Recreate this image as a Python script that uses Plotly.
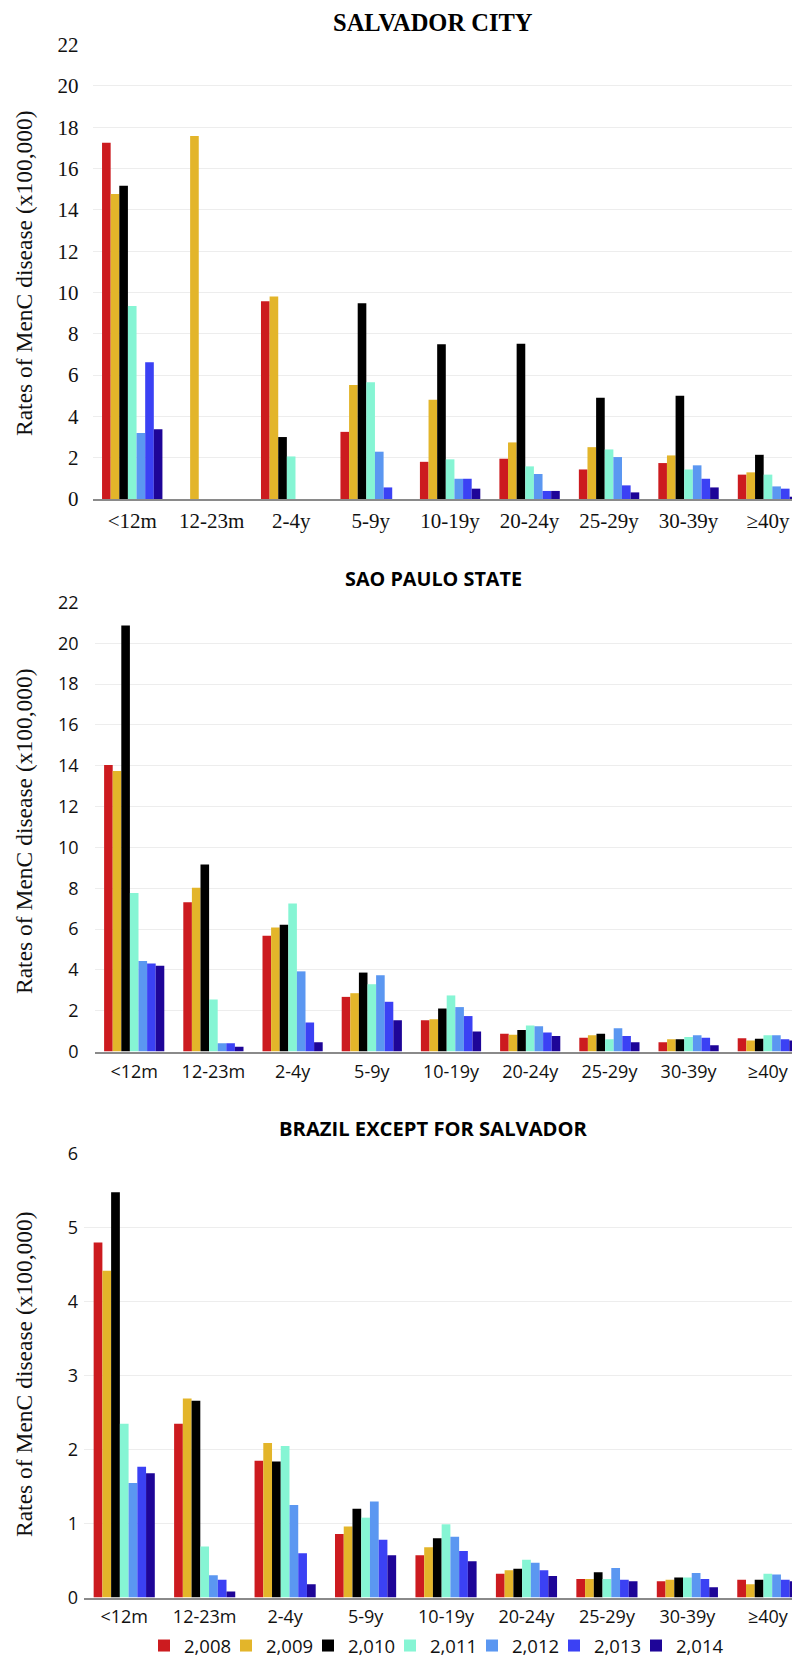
import plotly.graph_objects as go

categories = ["<12m", "12-23m", "2-4y", "5-9y", "10-19y", "20-24y", "25-29y", "30-39y", "≥40y"]
years = ["2,008", "2,009", "2,010", "2,011", "2,012", "2,013", "2,014"]
colors = ["#CC1B1F", "#E3B52A", "#000000", "#86F5D4", "#5B97F1", "#3B41F4", "#1E0598"]

salvador_2008 = [17.25, 0, 9.57, 3.25, 1.80, 1.95, 1.43, 1.74, 1.18]
salvador_2009 = [14.77, 17.58, 9.80, 5.52, 4.81, 2.74, 2.51, 2.11, 1.29]
salvador_2010 = [15.17, 0, 3.00, 9.48, 7.49, 7.52, 4.90, 5.00, 2.14]
salvador_2011 = [9.35, 0, 2.06, 5.65, 1.92, 1.58, 2.40, 1.43, 1.18]
salvador_2012 = [3.20, 0, 0, 2.29, 0.98, 1.21, 2.03, 1.63, 0.61]
salvador_2013 = [6.62, 0, 0, 0.56, 0.98, 0.39, 0.66, 0.98, 0.50]
salvador_2014 = [3.38, 0, 0, 0, 0.50, 0.39, 0.32, 0.56, 0.11]

saopaulo_2008 = [14.04, 7.32, 5.67, 2.68, 1.54, 0.88, 0.68, 0.46, 0.65]
saopaulo_2009 = [13.74, 8.03, 6.08, 2.86, 1.58, 0.83, 0.80, 0.60, 0.54]
saopaulo_2010 = [20.87, 9.16, 6.21, 3.87, 2.11, 1.06, 0.88, 0.60, 0.63]
saopaulo_2011 = [7.77, 2.55, 7.25, 3.30, 2.75, 1.28, 0.60, 0.72, 0.80]
saopaulo_2012 = [4.44, 0.41, 3.93, 3.74, 2.18, 1.24, 1.14, 0.80, 0.80]
saopaulo_2013 = [4.31, 0.41, 1.43, 2.44, 1.74, 0.94, 0.76, 0.68, 0.60]
saopaulo_2014 = [4.20, 0.24, 0.46, 1.54, 0.99, 0.76, 0.46, 0.31, 0.54]

brazil_2008 = [4.80, 2.35, 1.85, 0.86, 0.57, 0.32, 0.25, 0.22, 0.24]
brazil_2009 = [4.42, 2.69, 2.09, 0.96, 0.68, 0.37, 0.25, 0.24, 0.18]
brazil_2010 = [5.48, 2.66, 1.84, 1.20, 0.80, 0.39, 0.34, 0.27, 0.24]
brazil_2011 = [2.35, 0.69, 2.05, 1.08, 0.99, 0.51, 0.25, 0.27, 0.32]
brazil_2012 = [1.55, 0.30, 1.25, 1.30, 0.82, 0.47, 0.40, 0.33, 0.31]
brazil_2013 = [1.77, 0.24, 0.60, 0.78, 0.63, 0.37, 0.24, 0.25, 0.24]
brazil_2014 = [1.68, 0.08, 0.18, 0.57, 0.49, 0.29, 0.22, 0.14, 0.22]

panel_titles = ["SALVADOR CITY", "SAO PAULO STATE", "BRAZIL EXCEPT FOR SALVADOR"]
y_title = "Rates of MenC disease (x100,000)"

panels = [
    [salvador_2008, salvador_2009, salvador_2010, salvador_2011, salvador_2012, salvador_2013, salvador_2014],
    [saopaulo_2008, saopaulo_2009, saopaulo_2010, saopaulo_2011, saopaulo_2012, saopaulo_2013, saopaulo_2014],
    [brazil_2008, brazil_2009, brazil_2010, brazil_2011, brazil_2012, brazil_2013, brazil_2014],
]

# page is 800x1662; the html body adds an 8px offset
OFF = 8
W, H = 800 - OFF, 1662 - OFF
SERIF = "Liberation Serif, Times New Roman, serif"
SANS = "Open Sans, sans-serif"

def fx(px):
    return (px - OFF) / W

def fy(px):
    return 1 - (px - OFF) / H

# layout geometry (page pixels)
x_left = [92.5, 94.6, 84.0]
y_top = [43.7, 601.5, 1153.0]
y_bot = [499.0, 1051.6, 1597.5]
ytitle_center = [273, 831, 1374]
cat_w = [79.47, 79.2, 80.45]
y_max = [22, 22, 6]
y_dtick = [2, 2, 1]
tick_fonts = [dict(family=SERIF, size=21, color="#111"),
              dict(family=SANS, size=18, color="#111"),
              dict(family=SANS, size=18, color="#111")]
title_fonts = [dict(family=SERIF, size=24.5, color="#000"),
               dict(family=SANS, size=19.8, color="#000"),
               dict(family=SANS, size=20.2, color="#000")]
title_y = [None, 578, 1128]
y_standoff = [13, 15, 5]
x_standoff = [2, 3, 2]

fig = go.Figure()
layout = dict(
    width=W, height=H,
    margin=dict(l=0, r=0, t=0, b=0, pad=0, autoexpand=False),
    paper_bgcolor="white", plot_bgcolor="white",
    barmode="group", bargap=0.24, bargroupgap=0,
    showlegend=True,
    legend=dict(orientation="h", x=fx(144), xanchor="left", y=-3.0 / H, yanchor="bottom",
                font=dict(family=SANS, size=18.5, color="#111"), traceorder="normal",
                itemwidth=30, tracegroupgap=0, entrywidth=37, entrywidthmode="pixels",
                borderwidth=0, bgcolor="rgba(0,0,0,0)"),
    annotations=[],
)

for p in range(3):
    sfx = "" if p == 0 else str(p + 1)
    for i, yr in enumerate(years):
        fig.add_trace(go.Bar(
            x=categories, y=panels[p][i], name=yr,
            marker=dict(color=colors[i], line=dict(width=0)),
            xaxis="x" + sfx, yaxis="y" + sfx,
            legendgroup=yr, showlegend=(p == 2),
            legendwidth=(55 if i == len(years) - 1 else None),
        ))
    rng_right = -0.5 + (800 - x_left[p]) / cat_w[p]
    layout["xaxis" + sfx] = dict(
        domain=[fx(x_left[p]), 1.0], anchor="y" + sfx,
        range=[-0.5, rng_right], type="category", automargin=False,
        showgrid=False, showline=True, linecolor="#8a8a8a", linewidth=2,
        ticks="", tickfont=tick_fonts[p], ticklabelstandoff=x_standoff[p],
        fixedrange=True,
    )
    layout["yaxis" + sfx] = dict(
        domain=[fy(y_bot[p]), fy(y_top[p])], anchor="x" + sfx,
        range=[0, y_max[p] * 1.002], dtick=y_dtick[p], tick0=0, automargin=False,
        showgrid=True, gridcolor="#ededed", gridwidth=1,
        zeroline=False, showline=False, ticks="",
        tickfont=tick_fonts[p], ticklabelstandoff=y_standoff[p],
        fixedrange=True,
    )
    layout["annotations"].append(dict(
        text=y_title, textangle=-90, xref="paper", yref="paper",
        x=fx(24), y=fy(ytitle_center[p]), xanchor="center", yanchor="middle",
        showarrow=False, font=dict(family=SERIF, size=23.5, color="#111"),
    ))
    if title_y[p] is None:
        ty, ya = 1.0, "top"
    else:
        ty, ya = fy(title_y[p]), "middle"
    layout["annotations"].append(dict(
        text="<b>" + panel_titles[p] + "</b>", xref="paper", yref="paper",
        x=fx(433), y=ty, xanchor="center", yanchor=ya, borderpad=0,
        showarrow=False, font=title_fonts[p],
    ))

fig.update_layout(**layout)
fig.write_html("out.html")
